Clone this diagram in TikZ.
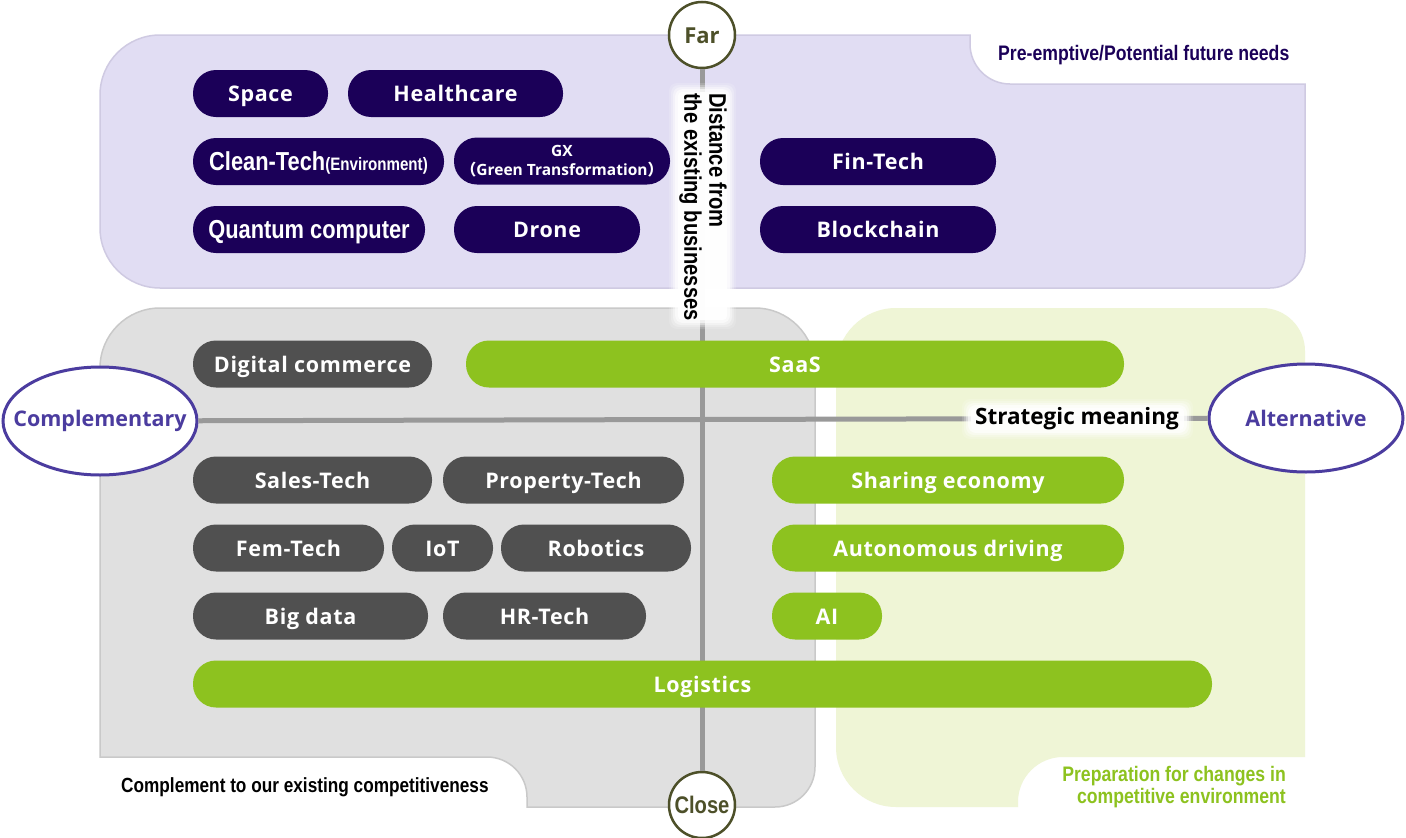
\documentclass[tikz,border=0pt]{standalone}
\usepackage{fontspec}
\setmainfont{Open Sans}
\newfontfamily\pillfont{Open Sans}[LetterSpace=3]
\newfontfamily\narrowfont[FakeStretch=0.84]{Liberation Sans}
\newfontfamily\cjkfont{Noto Sans CJK JP}
\usetikzlibrary{shapes.geometric}
\definecolor{lavbg}{HTML}{E1DDF3}
\definecolor{lavedge}{HTML}{CFCAE2}
\definecolor{navy}{HTML}{1B0058}
\definecolor{greybg}{HTML}{E0E0E0}
\definecolor{greyedge}{HTML}{C9C9C9}
\definecolor{darkpill}{HTML}{505050}
\definecolor{greenbg}{HTML}{EFF5D6}
\definecolor{greenpill}{HTML}{8DC21F}
\definecolor{purpleline}{HTML}{4B3C9F}
\definecolor{olive}{HTML}{4D5029}
\definecolor{axisgrey}{HTML}{999999}
\tikzset{
  pillbase/.style={rounded corners=23pt, minimum height=47pt, inner sep=0pt, text=white,
    font=\pillfont\bfseries\fontsize{21.5}{26}\selectfont},
  pill/.style={pillbase, text height=16pt, text depth=0pt},
  navypill/.style={pill, fill=navy},
  darkpillst/.style={pill, fill=darkpill},
  greenpillst/.style={pill, fill=greenpill},
  endcircle/.style={circle, draw=olive, fill=white, line width=2.5pt, minimum size=66pt,
    inner sep=0pt, text=olive, text height=16pt, text depth=0pt},
  sideellipse/.style={ellipse, draw=purpleline, fill=white, line width=3pt,
    minimum width=194pt, minimum height=108pt, inner sep=0pt},
  sidetext/.style={inner sep=0pt, text=purpleline, font=\bfseries\fontsize{21.5}{24}\selectfont},
  axisline/.style={draw=axisgrey, line width=5pt},
  glowlabel/.style={inner sep=0pt, text=black},
  cornerlabel/.style={inner sep=0pt, font=\narrowfont\bfseries\fontsize{21}{22}\selectfont}
}
\begin{document}
\begin{tikzpicture}[x=1pt,y=-1pt]
\useasboundingbox (0,0) rectangle (1406,838);
\fill[white] (0,0) rectangle (1406,838);
% purple region
\path[fill=lavbg, draw=lavedge, line width=1.5pt]
  (100,95) arc[start angle=180, end angle=270, radius=60]
  -- (970,35) -- (970,44) arc[start angle=180, end angle=90, radius=40]
  -- (1305,84) -- (1305,253) arc[start angle=0, end angle=90, radius=35]
  -- (160,288) arc[start angle=90, end angle=180, radius=60] -- cycle;
% grey region
\path[fill=greybg, draw=greyedge, line width=1.5pt]
  (100,368) arc[start angle=180, end angle=270, radius=60]
  -- (755,308) arc[start angle=270, end angle=360, radius=60]
  -- (815,767) arc[start angle=0, end angle=90, radius=40]
  -- (527,807) -- (527,797) arc[start angle=0, end angle=-90, radius=40]
  -- (100,757) -- cycle;
% green region
\path[fill=greenbg]
  (836,368) arc[start angle=180, end angle=270, radius=60]
  -- (1262,308) arc[start angle=270, end angle=360, radius=43]
  -- (1305,757) -- (1063,757) arc[start angle=270, end angle=180, radius=45]
  -- (1018,807) -- (896,807) arc[start angle=90, end angle=180, radius=60] -- cycle;

% axis end markers
\node[endcircle, font=\bfseries\fontsize{22}{25}\selectfont] (far) at (702,35) {Far};
\node[endcircle, font=\narrowfont\bfseries\fontsize{24}{25}\selectfont] (close) at (702,805) {Close};
\node[sideellipse] (comp) at (100,421) {};
\node[sidetext] (comptext) at (comp) {Complementary};
\node[sideellipse] (alt) at (1306,418) {};
\node[sidetext] (alttext) at (alt) {Alternative};

% axes
\draw[axisline] (far) -- (close);
\draw[axisline] (comp) -- (alt);

% glow backgrounds
\foreach \g/\o in {7/0.15,5/0.25,3/0.4,1/0.6}{
  \fill[white, opacity=\o, rounded corners=8pt] (676-\g,90-\g) rectangle (729+\g,322+\g);
  \fill[white, opacity=\o, rounded corners=8pt] (969-\g,406-\g) rectangle (1186+\g,432+\g);
}
\fill[white, opacity=0.9, rounded corners=4pt] (678,92) rectangle (727,320);
\fill[white, opacity=0.85, rounded corners=4pt] (971,408) rectangle (1184,430);
\node[glowlabel, rotate=-90, align=left, font=\narrowfont\bfseries\fontsize{24}{25}\selectfont]
  (dist) at (703,207) {Distance from\\the existing businesses};
\node[glowlabel, font=\bfseries\fontsize{22.5}{24}\selectfont] (strat) at (1077,419) {Strategic meaning};

% corner labels
\node[cornerlabel, text=navy, anchor=west] (pre) at (998,55) {Pre-emptive/Potential future needs};
\node[cornerlabel, text=black, anchor=west, font=\narrowfont\bfseries\fontsize{20.5}{22}\selectfont] (compl) at (121,787) {Complement to our existing competitiveness};
\node[cornerlabel, text=greenpill, anchor=east, align=right] (prep) at (1286,787)
  {Preparation for changes in\\competitive environment};

% navy pills
\node[navypill, minimum width=135pt] (space) at (260.5,93.5) {Space};
\node[navypill, minimum width=215pt] (health) at (455.5,93.5) {Healthcare};
\node[navypill, minimum width=251pt, text height=18pt] (clean) at (318.5,161.5)
  {\narrowfont\bfseries\fontsize{26}{26}\selectfont Clean-Tech\fontsize{18}{20}\selectfont(Environment)};
\node[pillbase, fill=navy, minimum width=216pt, align=center, font=\bfseries\fontsize{15.5}{19}\selectfont] (gx) at (562,161)
  {GX\\{\cjkfont （}Green Transformation{\cjkfont ）}};
\node[navypill, minimum width=232pt, text height=18pt, font=\narrowfont\bfseries\fontsize{26}{26}\selectfont] (quantum) at (309,229.5) {Quantum computer};
\node[navypill, minimum width=186pt] (drone) at (547,229.5) {Drone};
\node[navypill, minimum width=236pt] (fin) at (878,161.5) {Fin-Tech};
\node[navypill, minimum width=236pt] (block) at (878,229.5) {Blockchain};

% dark pills
\node[darkpillst, minimum width=239pt] (digital) at (312.5,364) {Digital commerce};
\node[darkpillst, minimum width=239pt] (sales) at (312.5,480) {Sales-Tech};
\node[darkpillst, minimum width=241pt] (property) at (563.5,480) {Property-Tech};
\node[darkpillst, minimum width=191pt] (fem) at (288.5,548) {Fem-Tech};
\node[darkpillst, minimum width=101pt] (iot) at (442.5,548) {IoT};
\node[darkpillst, minimum width=190pt] (robot) at (596,548) {Robotics};
\node[darkpillst, minimum width=235pt] (bigdata) at (310.5,616) {Big data};
\node[darkpillst, minimum width=203pt] (hr) at (544.5,616) {HR-Tech};

% green pills
\node[greenpillst, minimum width=658pt] (saas) at (795,364) {SaaS};
\node[greenpillst, minimum width=352pt] (sharing) at (948,480) {Sharing economy};
\node[greenpillst, minimum width=352pt] (auto) at (948,548) {Autonomous driving};
\node[greenpillst, minimum width=110pt] (ai) at (827,616) {AI};
\node[greenpillst, minimum width=1019pt] (logistics) at (702.5,684) {Logistics};
\end{tikzpicture}
\end{document}
